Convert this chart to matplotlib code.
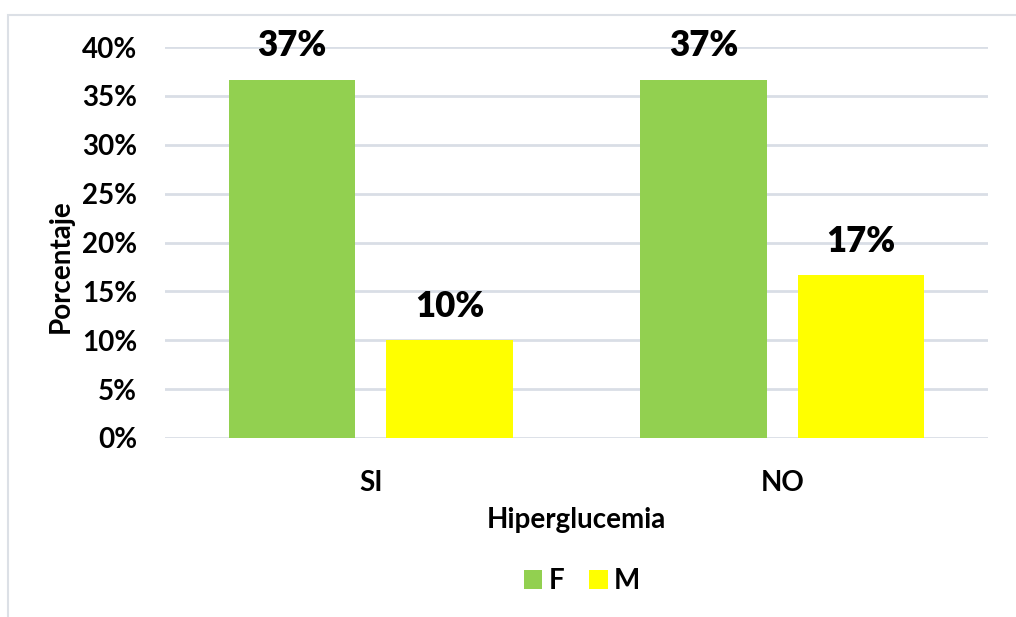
import matplotlib.pyplot as plt
import numpy as np
from matplotlib.patches import Rectangle
from matplotlib.ticker import PercentFormatter, MultipleLocator

# porcentaje por sexo segun hiperglucemia
categorias = ["SI", "NO"]
fem = [0.3667, 0.3667]
masc = [0.10, 0.1667]

verde = "#92D050"
amarillo = "#FFFF00"
gris = "#D9DEE6"

plt.rcParams['font.family'] = ['Lato', 'DejaVu Sans']
plt.rcParams['font.weight'] = 'bold'

fig = plt.figure(figsize=(10.16, 6.17), dpi=100)
ax = fig.add_axes([165 / 1016, 1 - 438 / 617, 823 / 1016, 391 / 617])

x = np.arange(len(categorias))
ancho = 0.307
sep = 0.1915
b1 = ax.bar(x - sep, fem, ancho, color=verde, label="F", zorder=3)
b2 = ax.bar(x + sep, masc, ancho, color=amarillo, label="M", zorder=3)

for barras in (b1, b2):
    for r in barras:
        h = r.get_height()
        ax.text(r.get_x() + r.get_width() / 2, h + 0.0175, f"{h:.0%}",
                ha="center", va="bottom", fontsize=25, fontweight="heavy")

ax.set_xlim(-0.5, 1.5)
ax.set_ylim(0, 0.40)
ax.yaxis.set_major_locator(MultipleLocator(0.05))
ax.yaxis.set_major_formatter(PercentFormatter(1.0, decimals=0))
ax.grid(axis="y", color=gris, linewidth=2, zorder=0)
ax.set_axisbelow(True)
for s in ax.spines.values():
    s.set_visible(False)
ax.tick_params(axis="both", length=0, labelsize=20)
ax.tick_params(axis="y", pad=20)
ax.tick_params(axis="x", pad=23)
ax.set_xticks(x)
ax.set_xticklabels(categorias, fontweight="bold")
for t in ax.get_yticklabels():
    t.set_fontweight("bold")
ax.set_ylabel("Porcentaje", fontsize=20, fontweight="bold", labelpad=6)
ax.yaxis.label.set_y(0.44)
ax.set_xlabel("Hiperglucemia", fontsize=20, fontweight="bold", labelpad=8)

ax.legend(loc="center", ncol=2, frameon=False, fontsize=20,
          handlelength=0.68, handleheight=0.65, handletextpad=0.22,
          columnspacing=0.9)
leg = ax.get_legend()
leg.set_bbox_to_anchor((582 / 1016, 1 - 581 / 617), transform=fig.transFigure)

# marco exterior del grafico
fig.patches.append(Rectangle((8 / 1016, -0.1), 1.2, 1 - 15 / 617 + 0.1,
                             transform=fig.transFigure, fill=False,
                             edgecolor="#DCE0E6", linewidth=1.5))

fig.savefig("out.png", dpi=100)
